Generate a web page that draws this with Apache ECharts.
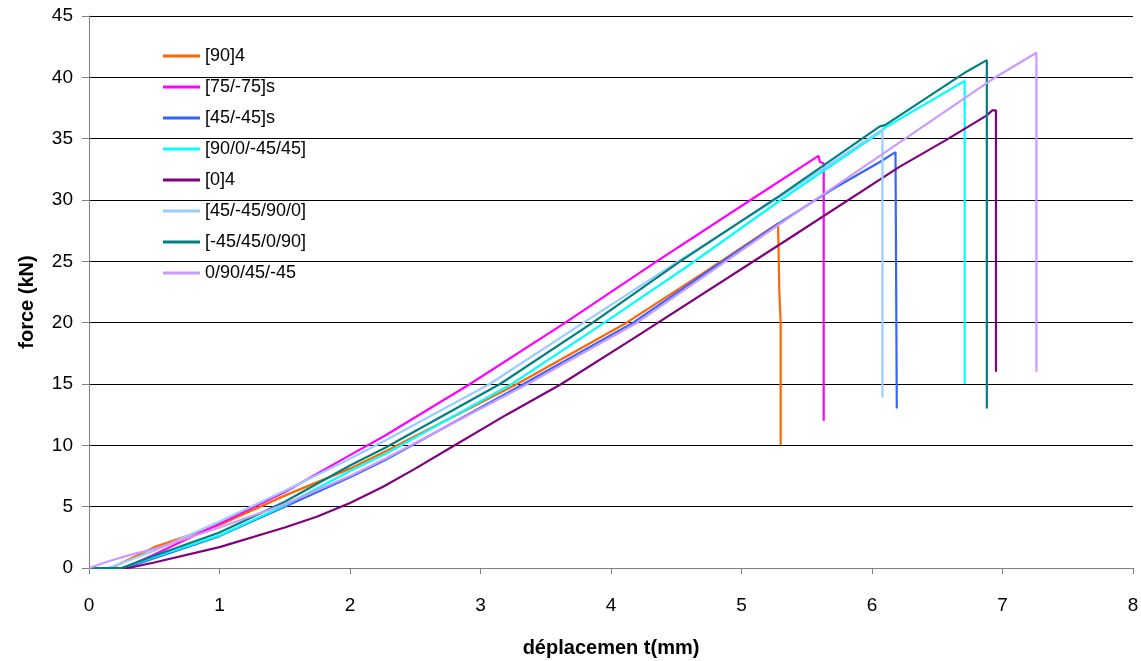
<!DOCTYPE html>
<html>
<head>
<meta charset="utf-8">
<script src="https://cdn.jsdelivr.net/npm/echarts@6/dist/echarts.min.js"></script>
<style>html,body{margin:0;padding:0;background:#fff}#c{width:1141px;height:661px}</style>
</head>
<body>
<div id="c"></div>
<script>
// ---- data ----
var seriesNames = ['[90]4', '[75/-75]s', '[45/-45]s', '[90/0/-45/45]', '[0]4', '[45/-45/90/0]', '[-45/45/0/90]', '0/90/45/-45'];

var s1x = [0, 0.17, 0.5, 1.0, 1.5, 2.0, 2.27, 3.28, 4.12, 4.7, 5.28, 5.29, 5.30, 5.30];
var s1y = [0, 0, 1.7, 3.5, 5.9, 8.1, 9.5, 15, 20, 24, 28.1, 22.5, 20, 10];

var s2x = [0, 0.27, 0.5, 1.0, 1.5, 2.0, 2.27, 2.92, 3.65, 4.35, 5.07, 5.59, 5.60, 5.63, 5.63];
var s2y = [0, 0, 1.1, 3.6, 6.2, 9.2, 10.8, 15, 20, 25, 30, 33.6, 33.1, 33.0, 12];

var s3x = [0, 0.28, 0.5, 1.0, 1.5, 2.0, 2.27, 3.33, 4.17, 4.8, 5.3, 5.7, 6.06, 6.18, 6.19];
var s3y = [0, 0, 0.8, 2.6, 5.0, 7.4, 8.8, 15, 20, 24.6, 28.2, 30.9, 33.1, 33.9, 13];

var s4x = [0, 0.25, 0.5, 1.0, 1.5, 2.0, 2.27, 3.24, 3.95, 4.6, 5.3, 6.06, 6.1, 6.71, 6.71];
var s4y = [0, 0, 0.9, 2.65, 5.1, 7.9, 9.3, 15, 20, 24.7, 30.0, 35.5, 35.9, 39.7, 15];

var s5x = [0, 0.3, 0.5, 1.0, 1.5, 1.75, 2.0, 2.25, 2.5, 2.77, 3.2, 3.62, 4.17, 5.37, 6.21, 6.57, 6.88, 6.92, 6.95, 6.95];
var s5y = [0, 0, 0.45, 1.7, 3.3, 4.2, 5.3, 6.6, 8.1, 9.8, 12.5, 15, 18.7, 26.9, 32.7, 34.9, 36.9, 37.3, 37.3, 16];

var s6x = [0, 0.15, 0.5, 1.0, 1.5, 2.0, 2.27, 3.07, 3.79, 4.5, 5.3, 6.08, 6.08];
var s6y = [0, 0, 1.4, 3.8, 6.3, 8.9, 10.4, 15, 20, 24.9, 30.3, 35.76, 13.9];

var s7x = [0, 0.25, 0.5, 1.0, 1.5, 2.0, 2.27, 3.15, 3.86, 4.53, 5.3, 6.06, 6.1, 6.73, 6.88, 6.88];
var s7y = [0, 0, 1.0, 2.9, 5.4, 8.35, 9.8, 15, 20, 25, 30.4, 36.0, 36.1, 40.5, 41.4, 13];

var s8x = [0, 0.15, 0.35, 0.5, 1.0, 1.5, 2.0, 2.27, 3.36, 4.2, 5.3, 6.06, 6.93, 7.26, 7.26];
var s8y = [0, 0.55, 1.17, 1.55, 3.3, 5.2, 7.5, 8.9, 15, 20, 28.1, 33.6, 39.9, 42.0, 16];

var colors = ['#FF6600', '#FF00FF', '#3366FF', '#00FFFF', '#800080', '#99CCFF', '#008080', '#CC99FF'];
var xs = [s1x, s2x, s3x, s4x, s5x, s6x, s7x, s8x];
var ys = [s1y, s2y, s3y, s4y, s5y, s6y, s7y, s8y];

function pairs(x, y) { var out = []; for (var i = 0; i < x.length; i++) out.push([x[i], y[i]]); return out; }

var series = seriesNames.map(function (n, i) {
  return {
    name: n, type: 'line', data: pairs(xs[i], ys[i]),
    showSymbol: false, symbol: 'none',
    lineStyle: { color: colors[i], width: 2.2 },
    itemStyle: { color: colors[i] },
    animation: false
  };
});

var chart = echarts.init(document.getElementById('c'), null, { renderer: 'canvas' });
chart.setOption({
  animation: false,
  backgroundColor: '#fff',
  textStyle: { fontFamily: 'Liberation Sans, Arial, sans-serif' },
  grid: { left: 89, right: 8, top: 16, bottom: 93, containLabel: false, outerBoundsMode: 'none' },
  legend: {
    orient: 'vertical', left: 158, top: 42,
    itemWidth: 37, itemHeight: 3, itemGap: 13, icon: 'rect',
    textStyle: { fontSize: 18, color: '#000', lineHeight: 18, fontFamily: 'Liberation Sans, Arial, sans-serif' },
    data: seriesNames
  },
  xAxis: {
    type: 'value', min: 0, max: 8, interval: 1,
    name: 'déplacemen t(mm)', nameLocation: 'middle', nameGap: 70,
    nameTextStyle: { fontSize: 20, fontWeight: 'bold', color: '#000', fontFamily: 'Liberation Sans, Arial, sans-serif' },
    axisLine: { show: true, lineStyle: { color: '#808080', width: 1 } },
    axisTick: { show: true, inside: false, length: 6, lineStyle: { color: '#808080' } },
    axisLabel: { fontSize: 19, color: '#000', margin: 28 },
    splitLine: { show: false }
  },
  yAxis: {
    type: 'value', min: 0, max: 45, interval: 5,
    name: 'force (kN)', nameLocation: 'middle', nameGap: 52, nameRotate: 90,
    nameTextStyle: { fontSize: 20, fontWeight: 'bold', color: '#000', padding: [0, 20, 0, 0], fontFamily: 'Liberation Sans, Arial, sans-serif' },
    axisLine: { show: true, lineStyle: { color: '#808080', width: 1 } },
    axisTick: { show: true, inside: false, length: 7, lineStyle: { color: '#808080' } },
    axisLabel: { fontSize: 19, color: '#000', margin: 16 },
    splitLine: { show: true, lineStyle: { color: '#000', width: 1 } }
  },
  series: series
});
</script>
</body>
</html>
